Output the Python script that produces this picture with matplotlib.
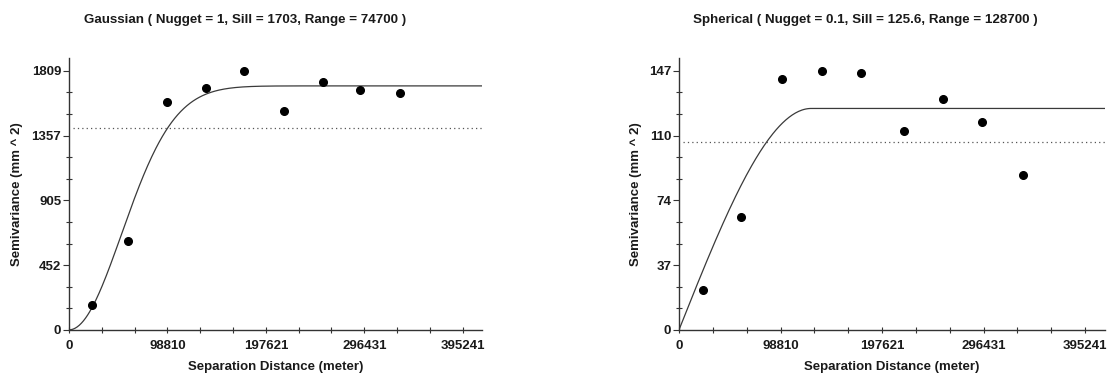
import numpy as np
import matplotlib.pyplot as plt
from matplotlib.ticker import FixedLocator

plt.rcParams['font.family'] = ['Liberation Sans', 'DejaVu Sans']
plt.rcParams['font.weight'] = 'bold'

# Experimental semivariogram (lag distance, semivariance)
gauss_lag = [23000, 59000, 98800, 137600, 175600, 216100, 254900, 292600, 332400]
gauss_gamma = [175, 620, 1588, 1688, 1809, 1528, 1730, 1677, 1653]
sph_lag = [23000, 60700, 99800, 139000, 177000, 218500, 256600, 295000, 334800]
sph_gamma = [22.6, 64.3, 142.1, 146.8, 145.5, 112.8, 130.8, 117.8, 88.1]

# Fitted model parameters (from the titles)
gauss_nugget, gauss_sill, gauss_range = 1, 1703, 74700
sph_nugget, sph_sill, sph_range = 0.1, 125.6, 128700

# Sample variance (dotted line)
gauss_var = 1407
sph_var = 106.6

x_ticks = [0, 98810, 197621, 296431, 395241]
gauss_yticks = [0, 452.25, 904.5, 1356.75, 1809]
gauss_ylabels = ["0", "452", "905", "1357", "1809"]
sph_yticks = [0, 36.75, 73.5, 110.25, 147]
sph_ylabels = ["0", "37", "74", "110", "147"]


def gaussian_model(h):
    return gauss_nugget + (gauss_sill - gauss_nugget) * (1 - np.exp(-(h / gauss_range) ** 2))


def spherical_model(h):
    r = np.minimum(h / sph_range, 1.0)
    return sph_nugget + (sph_sill - sph_nugget) * (1.5 * r - 0.5 * r ** 3)


def style_axes(ax, yticks, ylabels, label_x):
    ax.spines['top'].set_visible(False)
    ax.spines['right'].set_visible(False)
    for s in ['left', 'bottom']:
        ax.spines[s].set_color('#333333')
        ax.spines[s].set_linewidth(1.0)
    ax.set_xlim(0, x_ticks[-1] * 1.049)
    ax.set_ylim(0, yticks[-1] * 1.049)
    ax.set_xticks(x_ticks)
    ax.set_xticklabels([str(t) for t in x_ticks])
    ax.set_yticks(yticks)
    ax.set_yticklabels(ylabels)
    # minor ticks at thirds of each major interval
    xm = np.linspace(0, x_ticks[-1], 13)
    ym = np.linspace(0, yticks[-1], 13)
    ax.xaxis.set_minor_locator(FixedLocator(xm))
    ax.yaxis.set_minor_locator(FixedLocator(ym))
    ax.tick_params(axis='both', which='major', labelsize=9.5, colors='#333333',
                   labelcolor='#1a1a1a', length=4, width=0.8, pad=1.5)
    ax.tick_params(axis='x', which='major', direction='inout', pad=5)
    ax.tick_params(axis='y', which='major', direction='out')
    ax.tick_params(axis='both', which='minor', direction='inout', length=4,
                   width=0.8, colors='#333333')
    ax.set_xlabel("Separation Distance (meter)", fontsize=9.5, fontweight='bold', color='#1a1a1a')
    ax.set_ylabel("Semivariance (mm ^ 2)", fontsize=9.5, fontweight='bold', color='#1a1a1a')
    ax.xaxis.set_label_coords(0.5, -0.115)
    ax.yaxis.set_label_coords(label_x, 0.5)


fig = plt.figure(figsize=(11.08, 3.78), dpi=100)
W, H = 1108, 378
ax1 = fig.add_axes([69 / W, 1 - 330 / H, 413 / W, 272 / H])
ax2 = fig.add_axes([679 / W, 1 - 330 / H, 426 / W, 272 / H])

h = np.linspace(0, x_ticks[-1] * 1.049, 400)

ax1.plot(h, gaussian_model(h), color='#3a3a3a', linewidth=0.9, zorder=2)
ax1.axhline(gauss_var, xmin=0.01, color='#555555', linestyle=(0, (1, 2.5)), linewidth=0.9, zorder=1)
ax1.plot(gauss_lag, gauss_gamma, 'o', color='black', markersize=5.5, zorder=3, clip_on=False)
style_axes(ax1, gauss_yticks, gauss_ylabels, -0.111)

ax2.plot(h, spherical_model(h), color='#3a3a3a', linewidth=0.9, zorder=2)
ax2.axhline(sph_var, xmin=0.01, color='#555555', linestyle=(0, (1, 2.5)), linewidth=0.9, zorder=1)
ax2.plot(sph_lag, sph_gamma, 'o', color='black', markersize=5.5, zorder=3, clip_on=False)
style_axes(ax2, sph_yticks, sph_ylabels, -0.087)

fig.text(245 / W, 1 - 20 / H, "Gaussian ( Nugget = 1, Sill = 1703, Range = 74700 )",
         ha='center', va='center', fontsize=9.6, fontweight='bold', color='#1a1a1a')
fig.text(865 / W, 1 - 20 / H, "Spherical ( Nugget = 0.1, Sill = 125.6, Range = 128700 )",
         ha='center', va='center', fontsize=9.6, fontweight='bold', color='#1a1a1a')

fig.savefig("out.png", dpi=100, facecolor='white')
